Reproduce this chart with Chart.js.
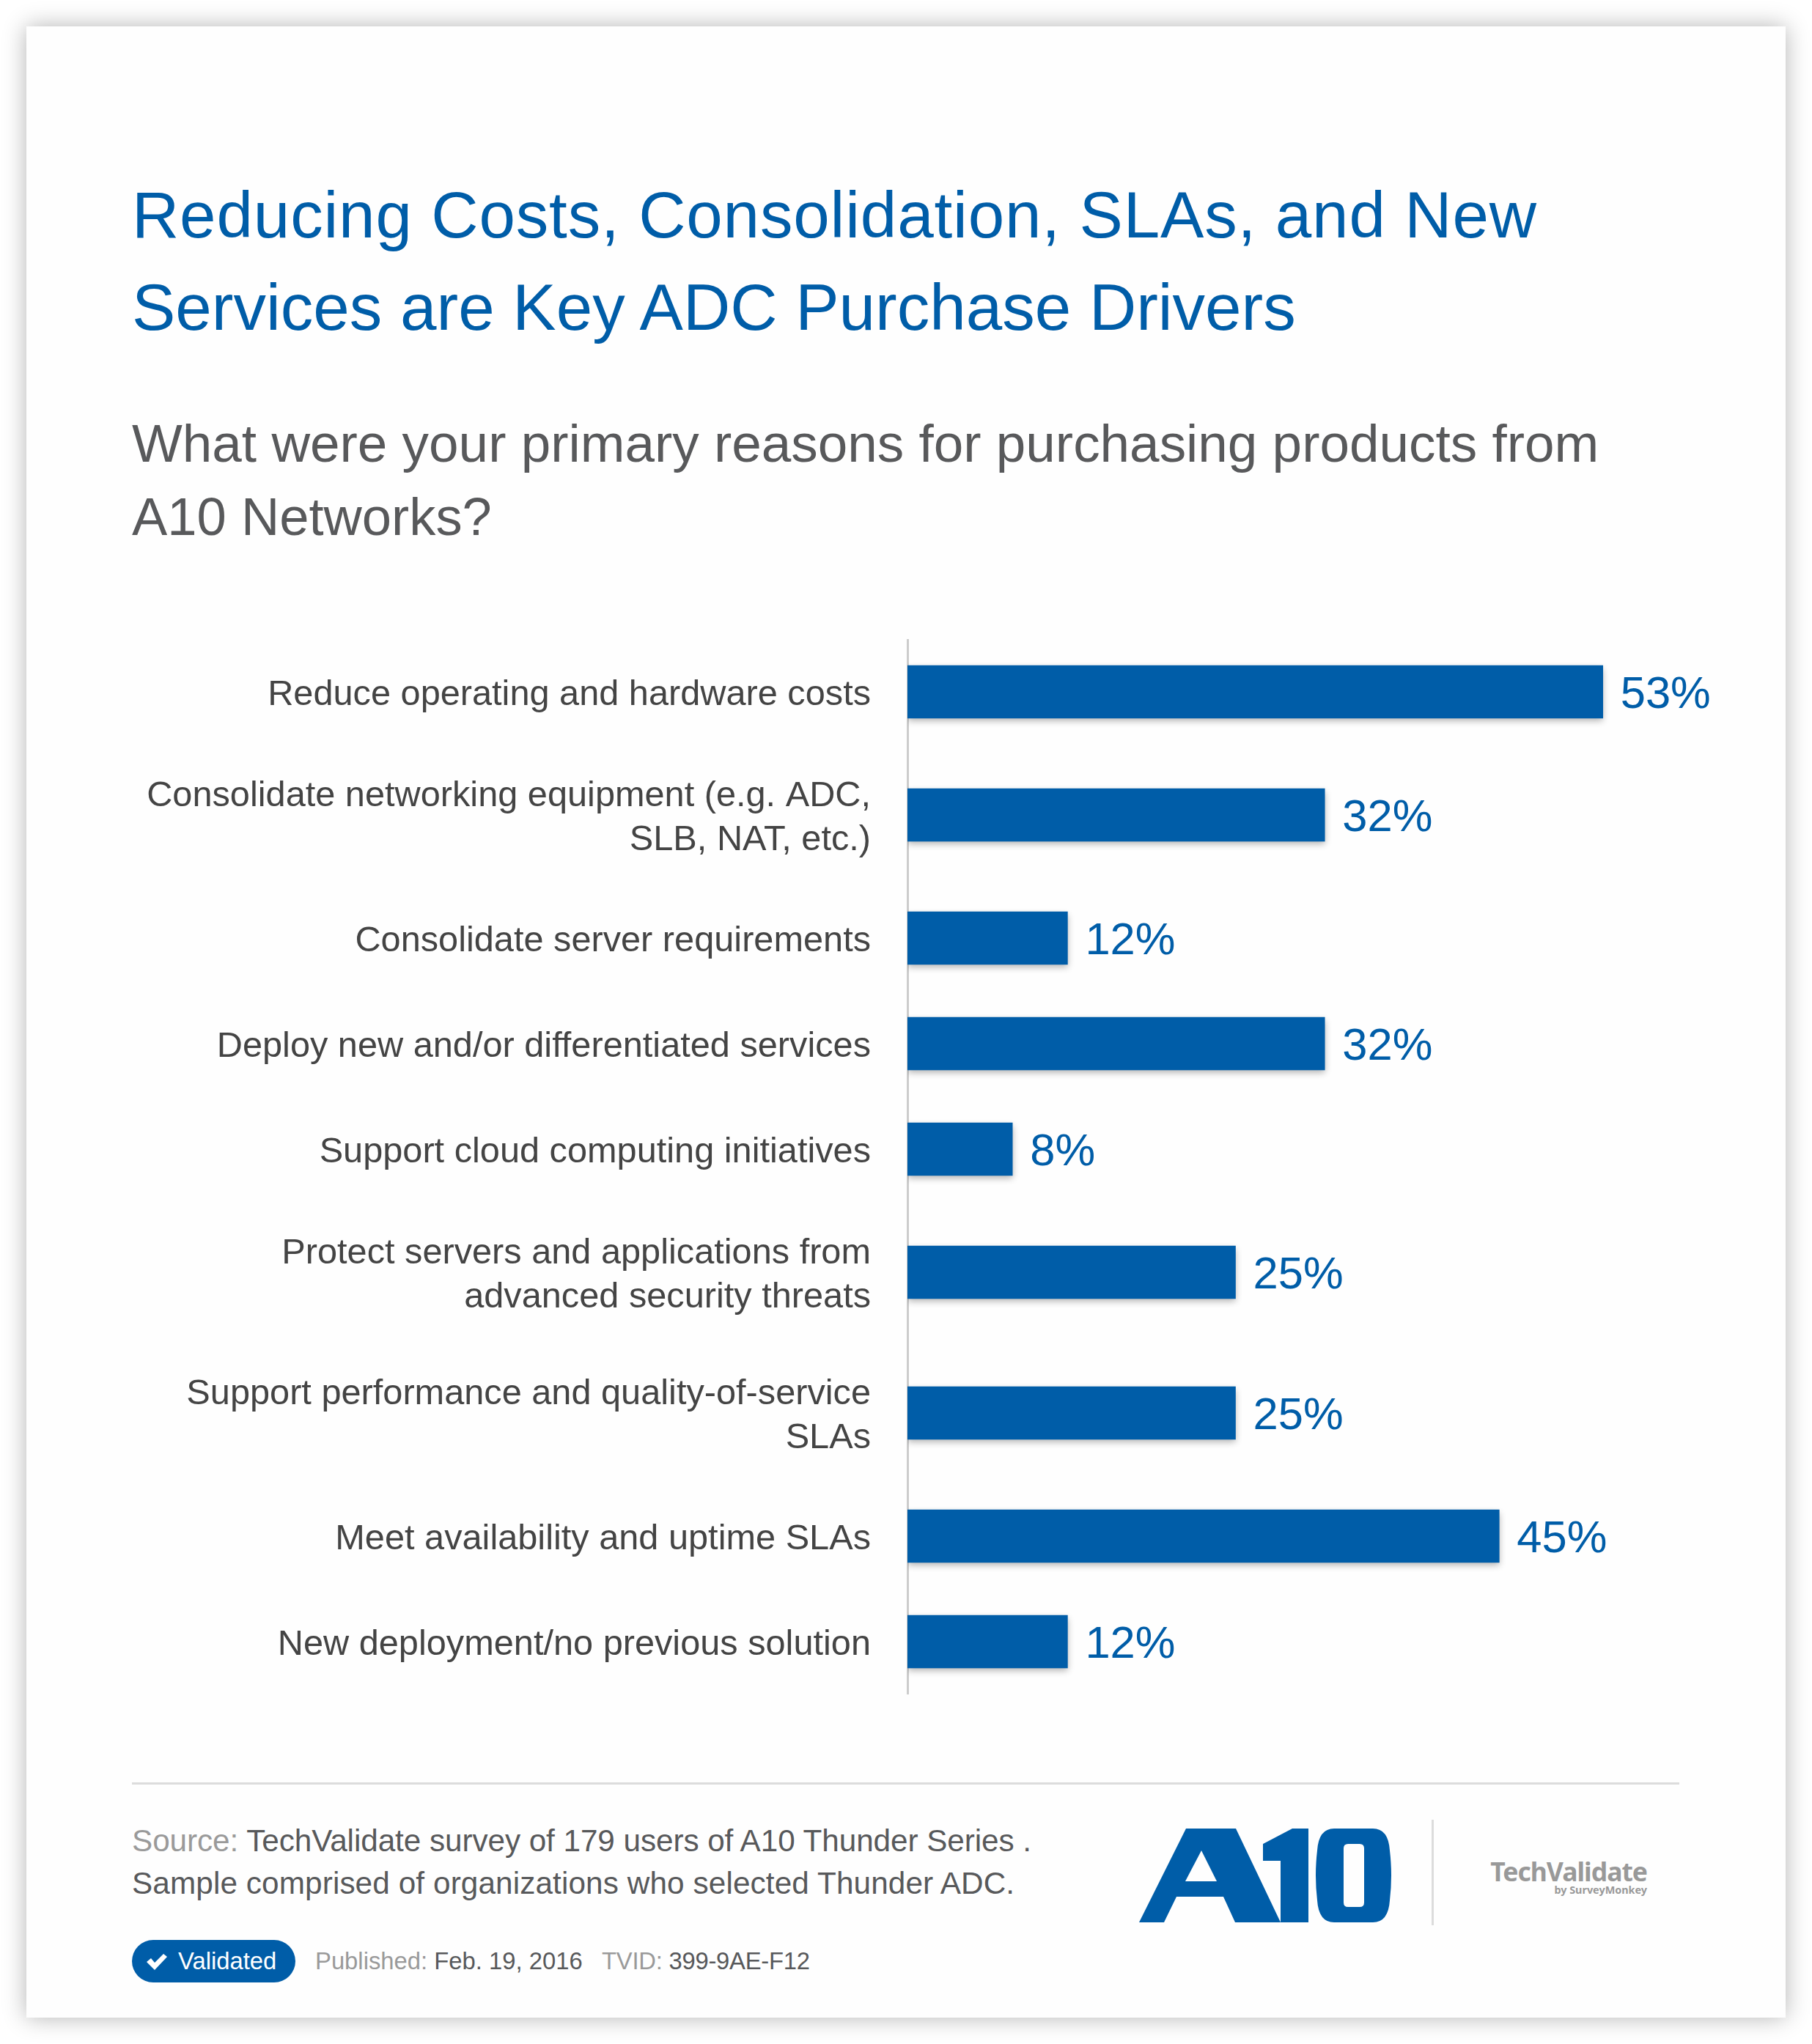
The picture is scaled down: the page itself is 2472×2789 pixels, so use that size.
<!DOCTYPE html>
<html>
<head>
<meta charset="utf-8">
<title>Key ADC Purchase Drivers</title>
<script src="https://cdn.jsdelivr.net/npm/chart.js@4/dist/chart.umd.min.js"></script>
<style>
    html, body { margin: 0; padding: 0; background: #fff; }
    body { width: 2472px; height: 2789px; position: relative; overflow: hidden; font-family: 'Liberation Sans', Arial, sans-serif; }
    #card { position: absolute; left: 36px; top: 36px; width: 2400px; height: 2717px; background: #fefefe; box-shadow: 0 0 30px rgba(0,0,0,.3); }
    .t { position: absolute; white-space: nowrap; }
    .title { left: 180px; font-size: 89px; line-height: 128px; color: #005da8; }
    .question { left: 180px; font-size: 73px; line-height: 100px; color: #58595b; }
    .source { left: 180px; font-size: 42.3px; line-height: 59px; color: #58595b; }
    .meta { font-size: 32.8px; line-height: 58px; color: #58595b; top: 2647px; }
    .soft { color: #9a9a9a; }
    #chartBox { position: absolute; left: 36px; top: 872px; width: 2400px; height: 1440px; }
    #rule { position: absolute; left: 180px; top: 2432px; width: 2111px; height: 3px; background: #dcdcdc; }
    #pill { position: absolute; left: 180px; top: 2647px; width: 223px; height: 58px; border-radius: 29px; background: #005da8; }
    #logo { position: absolute; left: 1500px; top: 2440px; }
    #sep { position: absolute; left: 1953px; top: 2483px; width: 3px; height: 144px; background: #dcdcdc; }
    .brand { right: 225px; color: #999; font-weight: bold; font-family: 'Noto Sans', sans-serif; }
</style>
</head>
<body>
<div id="card"></div>
<div class="t title" style="top:229px;letter-spacing:.84px">Reducing Costs, Consolidation, SLAs, and New</div>
<div class="t title" style="top:355px">Services are Key ADC Purchase Drivers</div>
<div class="t question" style="top:555px;font-size:72.9px">What were your primary reasons for purchasing products from</div>
<div class="t question" style="top:655px;font-size:72.4px">A10 Networks?</div>
<div id="chartBox"><canvas id="chart"></canvas></div>
<div id="rule"></div>
<div class="t source" style="top:2482px;letter-spacing:-.08px"><span class="soft">Source:</span> TechValidate survey of 179 users of A10 Thunder Series .</div>
<div class="t source" style="top:2540px;letter-spacing:.1px">Sample comprised of organizations who selected Thunder ADC.</div>
<div id="pill"></div>
<svg style="position:absolute;left:198px;top:2664px" width="32" height="26" viewBox="0 0 32 26"><path d="M2 13 L8 8 L13 14 L25 2 L30 6 L13 24 Z" fill="#fff"/></svg>
<div class="t meta" style="left:243px;color:#fff">Validated</div>
<div class="t meta" style="left:430px"><span class="soft">Published:</span> Feb. 19, 2016</div>
<div class="t meta" style="left:821px;letter-spacing:-.25px"><span class="soft">TVID:</span> 399-9AE-F12</div>
<svg id="logo" width="800" height="220" viewBox="0 0 800 220">
    <path fill="#005da8" fill-rule="evenodd" d="M54 183 L118 55 L186 55 L247 183 L185 183 L169 148 L105 148 L88 183 Z M117 127 L160 127 L139 85 Z"/>
    <path fill="#005da8" d="M223 76 L263 55 L285 55 L285 183 L247 183 L247 99 L223 99 Z"/>
    <path fill="#005da8" fill-rule="evenodd" d="M320 55 L373 55 Q394 55 396 85 Q400 119 396 153 Q394 183 373 183 L320 183 Q299 183 297 153 Q293 119 297 85 Q299 55 320 55 Z M339 76 Q333 76 333 82 L333 156 Q333 162 339 162 L355 162 Q361 162 361 156 L361 82 Q361 76 355 76 Z"/>
</svg>
<div id="sep"></div>
<div class="t brand" style="top:2530px;font-size:35.5px;line-height:46px;letter-spacing:-1px">TechValidate</div>
<div class="t brand" style="top:2569px;font-size:14.4px;line-height:20px">by SurveyMonkey</div>

<script>
const BLUE = '#005da8';

const categories = [
    ['Reduce operating and hardware costs'],
    ['Consolidate networking equipment (e.g. ADC,', 'SLB, NAT, etc.)'],
    ['Consolidate server requirements'],
    ['Deploy new and/or differentiated services'],
    ['Support cloud computing initiatives'],
    ['Protect servers and applications from', 'advanced security threats'],
    ['Support performance and quality-of-service', 'SLAs'],
    ['Meet availability and uptime SLAs'],
    ['New deployment/no previous solution'],
];
const percents = [53, 31.8, 12.2, 31.8, 8, 25, 25, 45.1, 12.2];

// two-line rows are taller than single-line ones
const rowSizes = categories.map(lines => lines.length > 1 ? 4 : 3);
const rowCentres = [];
let used = 0;
rowSizes.forEach(size => {
    rowCentres.push(used + size / 2);
    used += size;
});

Chart.defaults.font.family = "'Liberation Sans', Arial, sans-serif";

const barShadow = {
    id: 'barShadow',
    beforeDatasetsDraw(chart) {
        const ctx = chart.ctx;
        ctx.save();
        ctx.shadowColor = 'rgba(0,0,0,0.3)';
        ctx.shadowBlur = 9;
        ctx.shadowOffsetY = 4;
    },
    afterDatasetsDraw(chart) {
        chart.ctx.restore();
    },
};

const valueLabels = {
    id: 'valueLabels',
    afterDraw(chart) {
        const ctx = chart.ctx;
        ctx.save();
        ctx.fillStyle = BLUE;
        ctx.font = "61.5px 'Liberation Sans', Arial, sans-serif";
        ctx.textAlign = 'left';
        ctx.textBaseline = 'middle';
        chart.getDatasetMeta(0).data.forEach((bar, i) => {
            ctx.fillText(Math.round(percents[i]) + '%', bar.x + 24, bar.y + 5);
        });
        ctx.restore();
    },
};

new Chart(document.getElementById('chart'), {
    type: 'bar',
    data: {
        datasets: [{
            data: percents.map((value, i) => ({ x: value, y: rowCentres[i] })),
            backgroundColor: BLUE,
            borderWidth: 0,
            barThickness: 72,
        }],
    },
    options: {
        indexAxis: 'y',
        responsive: true,
        maintainAspectRatio: false,
        animation: false,
        layout: { padding: { right: 124 } },
        plugins: { legend: { display: false }, tooltip: { enabled: false } },
        scales: {
            x: {
                type: 'linear',
                min: 0,
                max: 60,
                display: false,
            },
            y: {
                type: 'linear',
                reverse: true,
                offset: false, // bar charts turn this on for the index axis
                min: 0,
                max: used,
                afterBuildTicks(axis) {
                    axis.ticks = rowCentres.map(value => ({ value }));
                },
                afterFit(axis) {
                    axis.width = 1202;
                    axis.paddingTop = 0;
                    axis.paddingBottom = 0;
                },
                grid: { display: false, drawTicks: false },
                border: { display: true, color: '#cccccc', width: 3 },
                ticks: {
                    autoSkip: false,
                    padding: 50,
                    labelOffset: 5,
                    color: '#444444',
                    font: { size: 48.7, lineHeight: 60 / 48.7 },
                    callback: (value, index) => categories[index],
                },
            },
        },
    },
    plugins: [barShadow, valueLabels],
});
</script>
</body>
</html>
